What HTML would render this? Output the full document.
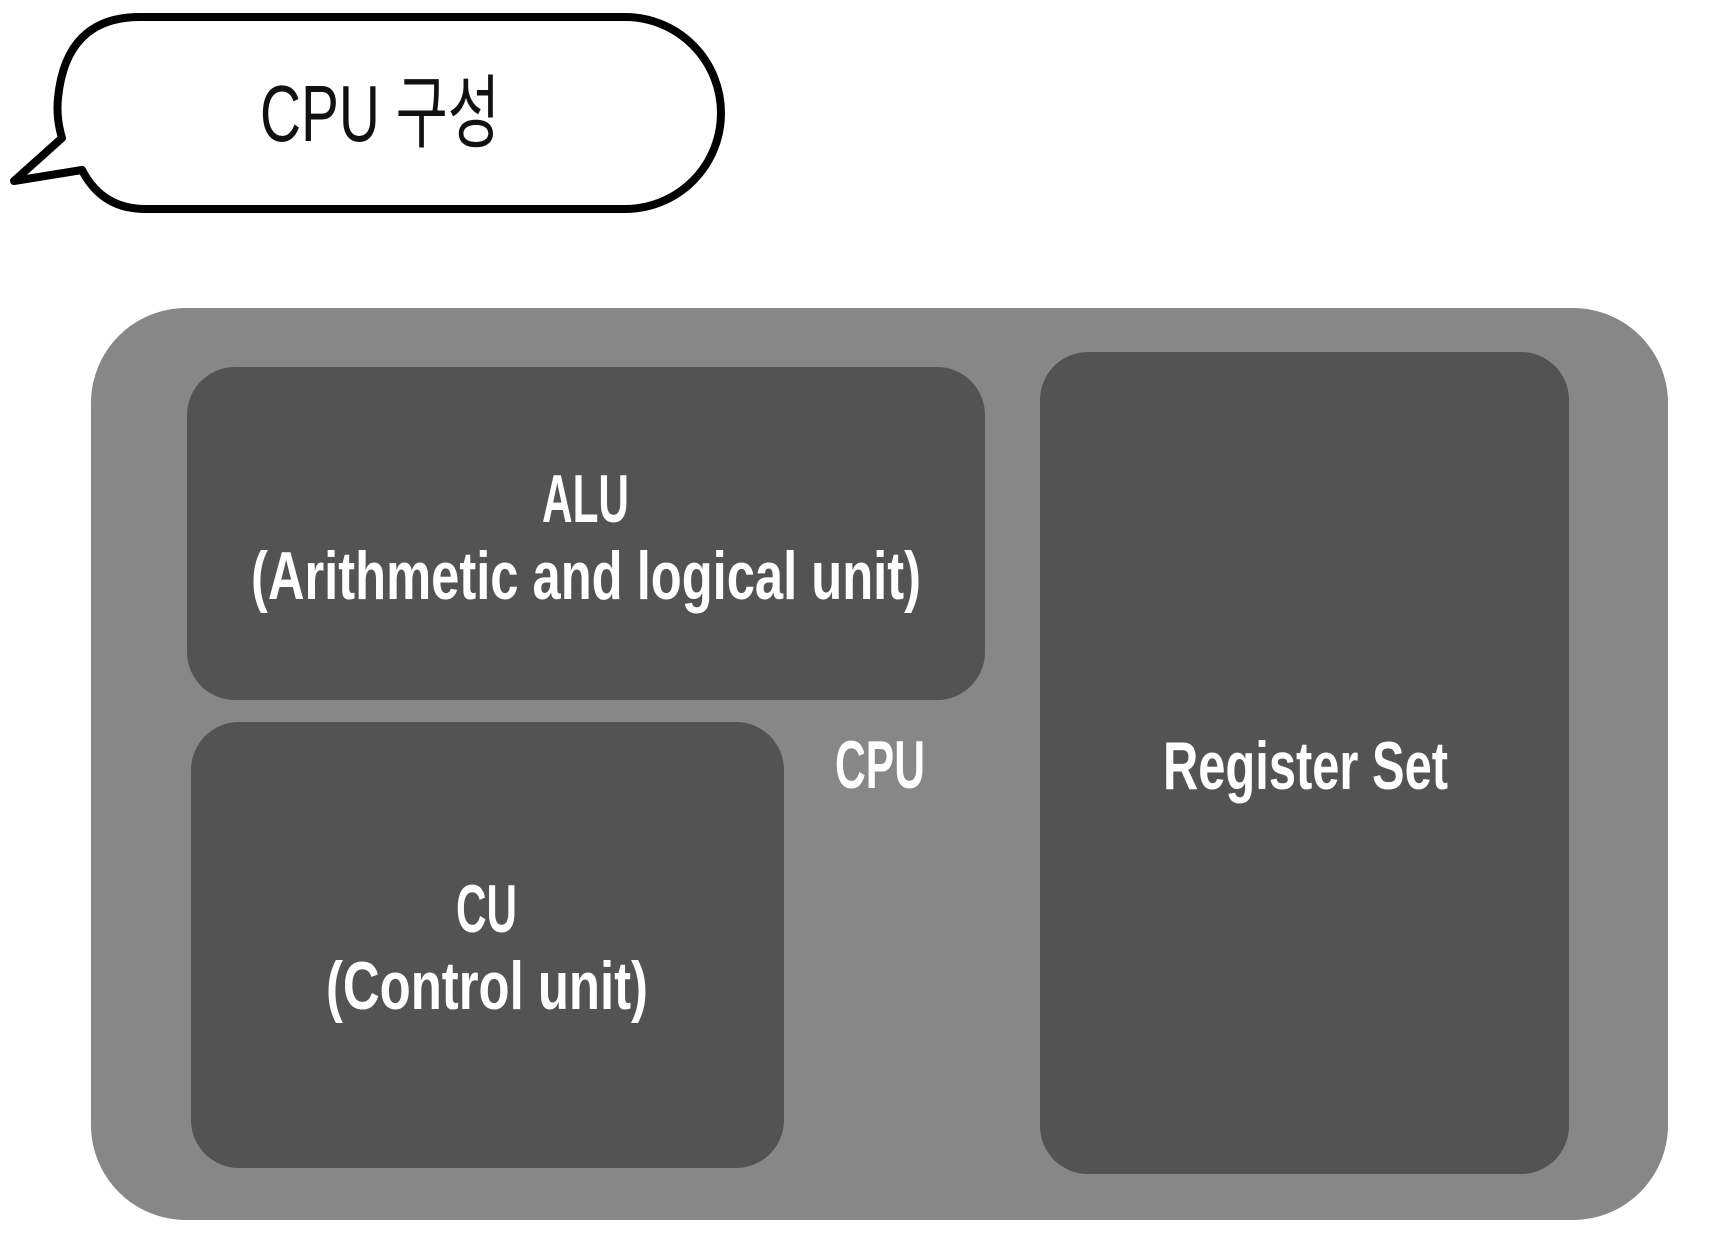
<!DOCTYPE html>
<html><head><meta charset="utf-8"><style>html,body{margin:0;padding:0;background:#fff;}svg{display:block}</style></head>
<body>
<svg width="1722" height="1260" viewBox="0 0 1722 1260" xmlns="http://www.w3.org/2000/svg">
<path d="M140,17 H625 A96,96 0 0 1 625,209 H145 Q102,209 82,170 L14,181 L62,138 Q56,118 58,98 Q66,17 140,17 Z" fill="#fff" stroke="#000" stroke-width="8" stroke-linejoin="round"/>
<text x="260" y="141" font-family="Liberation Sans Narrow, Liberation Sans, Noto Sans CJK KR, sans-serif" font-size="80" textLength="240" lengthAdjust="spacingAndGlyphs" fill="#111">CPU 구성</text>
<rect x="91" y="308" width="1577" height="912" rx="95" fill="#878787"/>
<rect x="187" y="367" width="798" height="333" rx="48" fill="#535353"/>
<rect x="191" y="722" width="593" height="446" rx="48" fill="#535353"/>
<rect x="1040" y="352" width="529" height="822" rx="48" fill="#535353"/>
<g font-family="Liberation Sans Narrow, Liberation Sans, sans-serif" font-size="68" font-weight="bold" fill="#fff">
<text x="542" y="522" textLength="87" lengthAdjust="spacingAndGlyphs">ALU</text>
<text x="251" y="599" textLength="670" lengthAdjust="spacingAndGlyphs">(Arithmetic and logical unit)</text>
<text x="456" y="932" textLength="61" lengthAdjust="spacingAndGlyphs">CU</text>
<text x="326" y="1009" textLength="322" lengthAdjust="spacingAndGlyphs">(Control unit)</text>
<text x="835" y="788" textLength="90" lengthAdjust="spacingAndGlyphs">CPU</text>
<text x="1163" y="789" textLength="285" lengthAdjust="spacingAndGlyphs">Register Set</text>
</g>
</svg>
</body></html>
